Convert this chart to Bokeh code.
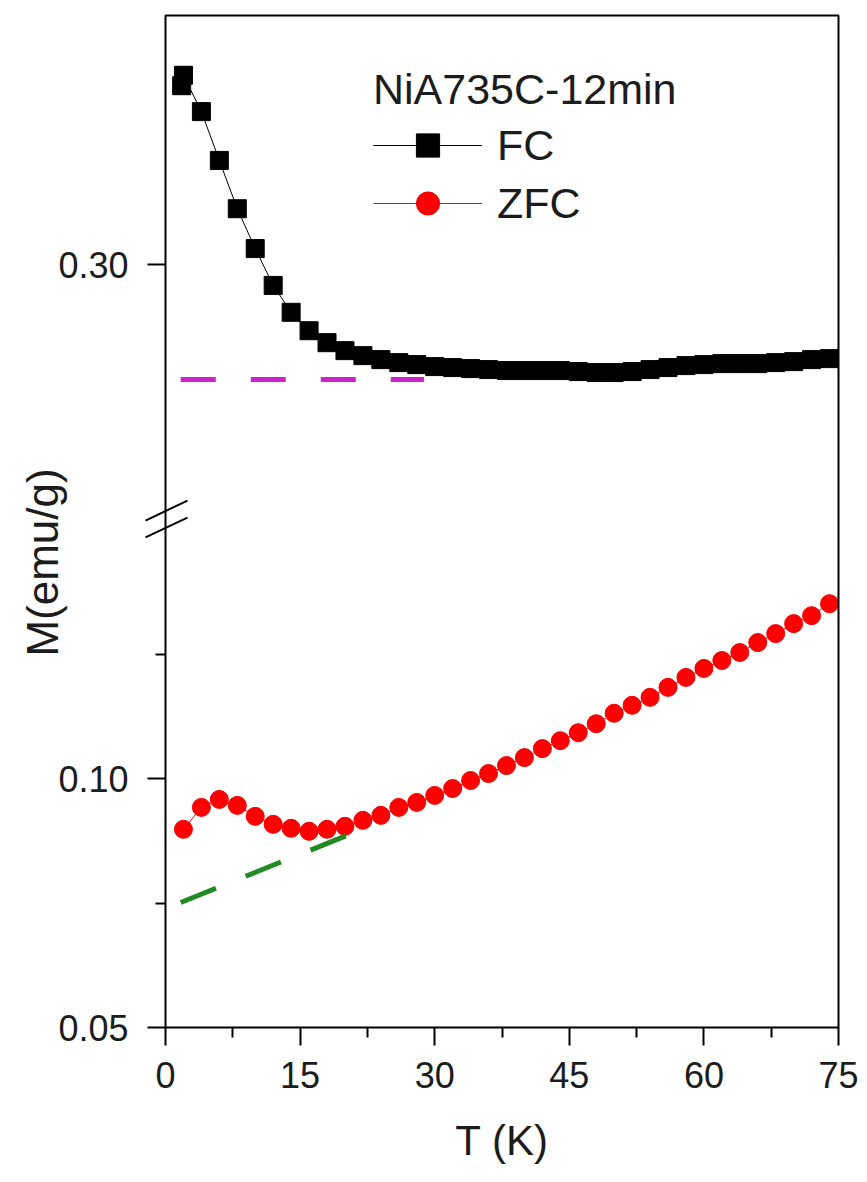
import math

from bokeh.embed import file_html
from bokeh.models import (Arrow, BoxAnnotation, CustomJSTickFormatter,
                          FixedTicker, Label, Legend, LegendItem, Range1d)
from bokeh.plotting import figure
from bokeh.resources import INLINE

# --- measured magnetisation, M(emu/g) versus T(K) ---------------------------
T_FC = [1.8, 2, 4, 6, 8, 10, 12, 14, 16, 18, 20, 22, 24, 26, 28, 30, 32, 34, 36,
        38, 40, 42, 44, 46, 48, 50, 52, 54, 56, 58, 60, 62, 64, 66, 68, 70, 72, 74]
M_FC = [0.3359, 0.3380, 0.3307, 0.3209, 0.3112, 0.3032, 0.2958, 0.2904, 0.2867,
        0.2843, 0.2827, 0.2817, 0.2809, 0.2803, 0.2799, 0.2795, 0.2793, 0.2791,
        0.2789, 0.2787, 0.2787, 0.2787, 0.2787, 0.2785, 0.2783, 0.2783, 0.2785,
        0.2789, 0.2793, 0.2797, 0.2799, 0.2801, 0.2801, 0.2801, 0.2803, 0.2805,
        0.2809, 0.2811]

T_ZFC = [2, 4, 6, 8, 10, 12, 14, 16, 18, 20, 22, 24, 26, 28, 30, 32, 34, 36, 38,
         40, 42, 44, 46, 48, 50, 52, 54, 56, 58, 60, 62, 64, 66, 68, 70, 72, 74]
M_ZFC = [0.0898, 0.0942, 0.0958, 0.0946, 0.0924, 0.0908, 0.0900, 0.0894, 0.0898,
         0.0904, 0.0916, 0.0926, 0.0942, 0.0952, 0.0966, 0.0980, 0.0996, 0.1010,
         0.1026, 0.1042, 0.1060, 0.1076, 0.1092, 0.1110, 0.1131, 0.1147, 0.1163,
         0.1183, 0.1203, 0.1221, 0.1237, 0.1253, 0.1273, 0.1291, 0.1311, 0.1327,
         0.1351]

# background guides (dashed)
T_FC_BASE = [1.7, 28.8]
M_FC_BASE = [0.2769, 0.2769]
T_ZFC_BASE = [1.7, 20.8]
M_ZFC_BASE = [0.0751, 0.0890]

X_TICKS = [0, 15, 30, 45, 60, 75]
X_MINOR = [7.5, 22.5, 37.5, 52.5, 67.5]
Y_LOW_TICKS = [0.05, 0.10]
Y_LOW_MINOR = [0.075, 0.125]
Y_HIGH_TICKS = [0.30]

SAMPLE = "NiA735C-12min"

# --- page geometry -------------------------------------------------------------
# The plotting frame fills the whole page so that labels and break marks can
# sit outside the data box; the axes are pinned to the box edges.
W, H = 867, 1182
BOX_L, BOX_R, BOX_T, BOX_B = 165, 838, 15, 1027     # data box, in pixels
X_MIN, X_MAX = 0.0, 75.0
px_x = (BOX_R - BOX_L) / (X_MAX - X_MIN)

PX_PER_UNIT = 4980.0                                 # both y segments
LOW_START = 0.05                                     # value at the box bottom
HIGH_END = 0.35                                      # value at the box top
low_end = LOW_START + (BOX_B - BOX_T) / PX_PER_UNIT
shift = HIGH_END - low_end                           # upper segment offset
BREAK_AT = 0.1518                                    # cut, lower-segment units

x_range = Range1d(X_MIN - BOX_L / px_x, X_MAX + (W - BOX_R) / px_x)
low_range = Range1d(LOW_START - (H - BOX_B) / PX_PER_UNIT,
                    LOW_START + BOX_B / PX_PER_UNIT)
high_range = Range1d(low_range.start + shift, low_range.end + shift)

FONT = "Liberation Sans"
INK = "#1c1c1c"

p = figure(frame_width=W, frame_height=H, min_border=0,
           x_range=x_range, y_range=low_range,
           toolbar_location=None, output_backend="svg")
p.extra_y_ranges = {"upper": high_range}

p.xgrid.visible = False
p.ygrid.visible = False
p.outline_line_color = None
p.background_fill_color = "white"
p.border_fill_color = "white"

for ax in (p.xaxis[0], p.yaxis[0]):
    ax.axis_line_color = None
    ax.major_tick_in = 0
    ax.minor_tick_in = 0
    ax.major_tick_out = 18
    ax.minor_tick_out = 10
    ax.major_tick_line_width = 2
    ax.minor_tick_line_width = 2
    ax.major_tick_line_color = "black"
    ax.minor_tick_line_color = "black"
    ax.major_label_text_font = FONT
    ax.major_label_text_font_size = "36px"
    ax.major_label_text_color = INK

xa = p.xaxis[0]
xa.fixed_location = LOW_START
xa.ticker = FixedTicker(ticks=X_TICKS, minor_ticks=X_MINOR)
xa.major_label_standoff = 16

ya = p.yaxis[0]
ya.fixed_location = X_MIN
ya.ticker = FixedTicker(ticks=Y_LOW_TICKS + [t - shift for t in Y_HIGH_TICKS],
                        minor_ticks=Y_LOW_MINOR)
ya.formatter = CustomJSTickFormatter(
    args=dict(shift=shift, brk=BREAK_AT),
    code="return (tick > brk ? tick + shift : tick).toFixed(2);")
ya.major_label_standoff = 19

# data box
p.add_layout(BoxAnnotation(left=X_MIN, right=X_MAX, bottom=LOW_START, top=low_end,
                           fill_alpha=0, line_color="black", line_alpha=1.0,
                           line_width=2, level="overlay"))

# --- data -------------------------------------------------------------------
fc_line = p.line(T_FC, M_FC, y_range_name="upper", color="black", line_width=1)
fc_pts = p.scatter(T_FC, M_FC, y_range_name="upper", marker="square", size=18,
                   fill_color="black", line_color="black")
zfc_line = p.line(T_ZFC, M_ZFC, color="red", line_width=1)
zfc_pts = p.scatter(T_ZFC, M_ZFC, marker="circle", size=18,
                    fill_color="#ff0000", line_color="#f00000")

p.line(T_FC_BASE, M_FC_BASE, y_range_name="upper", color="#cc22cc",
       line_width=5, line_dash="35 35")
p.line(T_ZFC_BASE, M_ZFC_BASE, color="#228a22", line_width=5, line_dash="38 32")

# axis break marks
for dy in (0.0, -0.0034):
    p.add_layout(Arrow(end=None, x_start=-2.23, y_start=BREAK_AT + dy,
                       x_end=2.45, y_end=BREAK_AT + dy + 0.0040,
                       line_color="black", line_width=2))

# axis titles
p.add_layout(Label(x=(X_MIN + X_MAX) / 2, y=LOW_START - 113 / PX_PER_UNIT,
                   text="T (K)", text_align="center", text_baseline="middle",
                   text_font=FONT, text_font_size="42px", text_color=INK))
p.add_layout(Label(x=X_MIN - 123 / px_x, y=LOW_START + 465 / PX_PER_UNIT,
                   text="M(emu/g)", angle=math.pi / 2,
                   text_align="center", text_baseline="middle",
                   text_font=FONT, text_font_size="44px", text_color=INK))

legend = Legend(items=[LegendItem(label="FC", renderers=[fc_line, fc_pts]),
                       LegendItem(label="ZFC", renderers=[zfc_line, zfc_pts])],
                title=SAMPLE, location=(373, 950),
                glyph_width=109, glyph_height=58, label_height=58,
                label_standoff=15, spacing=0, padding=0, margin=0,
                title_standoff=2,
                border_line_alpha=0, background_fill_alpha=0,
                label_text_font=FONT, label_text_font_size="43px",
                label_text_color=INK,
                title_text_font=FONT, title_text_font_size="43px",
                title_text_font_style="normal", title_text_color=INK)
p.add_layout(legend)

open("out.html", "w").write(file_html(p, INLINE))
